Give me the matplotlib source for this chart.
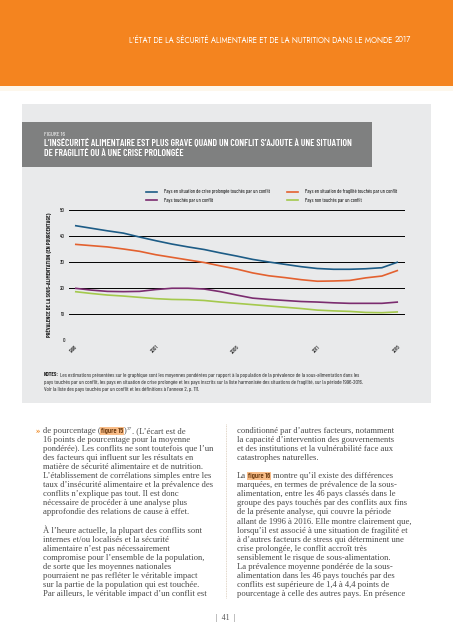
import matplotlib
matplotlib.use('Agg')
import matplotlib.pyplot as plt
from matplotlib.patches import Rectangle
from matplotlib.lines import Line2D

# --- data ---
years = list(range(1996, 2017))
crise_conflit = [44.0, 43.0, 42.0, 41.1, 39.6, 38.2, 36.9, 35.8, 34.8, 33.5, 32.3,
                 31.0, 30.0, 29.1, 28.2, 27.5, 27.2, 27.2, 27.4, 27.8, 30.0]
fragilite_conflit = [36.8, 36.3, 35.8, 35.0, 34.1, 32.8, 31.8, 30.8, 29.8, 28.5, 27.3,
                     25.8, 24.7, 24.0, 23.2, 22.6, 22.7, 22.9, 23.9, 24.6, 26.8]
touches_conflit = [19.9, 19.2, 18.7, 18.6, 18.7, 19.4, 19.9, 19.9, 19.6, 18.6, 17.3,
                   16.1, 15.6, 15.2, 14.8, 14.6, 14.3, 14.1, 14.1, 14.1, 14.6]
non_touches = [18.6, 17.9, 17.3, 16.9, 16.4, 15.9, 15.6, 15.5, 15.2, 14.6, 14.1,
               13.6, 13.1, 12.6, 12.1, 11.5, 11.2, 11.0, 10.6, 10.5, 10.8]
xticks = [1996, 2001, 2006, 2011, 2016]
yticks = [0, 10, 20, 30, 40, 50]

labels = ["Pays en situation de crise prolongée touchés par un conflit",
          "Pays touchés par un conflit",
          "Pays en situation de fragilité touchés par un conflit",
          "Pays non touchés par un conflit"]
colors = ["#1d5c86", "#7b2c6f", "#e3612f", "#a4c94d"]

header = "L’ÉTAT DE LA SÉCURITÉ ALIMENTAIRE ET DE LA NUTRITION DANS LE MONDE"
fig_num = "FIGURE 16"
title_lines = ["L’INSÉCURITÉ ALIMENTAIRE EST PLUS GRAVE QUAND UN CONFLIT S’AJOUTE À UNE SITUATION",
               "DE FRAGILITÉ OU À UNE CRISE PROLONGÉE"]
ylabel = "PRÉVALENCE DE LA SOUS-ALIMENTATION (EN POURCENTAGE)"
notes = ["Les estimations présentées sur le graphique sont les moyennes pondérées par rapport à la population de la prévalence de la sous-alimentation dans les",
         "pays touchés par un conflit, les pays en situation de crise prolongée et les pays inscrits sur la liste harmonisée des situations de fragilité, sur la période 1996-2016.",
         "Voir la liste des pays touchés par un conflit et les définitions à l’annexe 2, p. 111."]

left_col = ["", "16 points de pourcentage pour la moyenne",
            "pondérée). Les conflits ne sont toutefois que l’un",
            "des facteurs qui influent sur les résultats en",
            "matière de sécurité alimentaire et de nutrition.",
            "L’établissement de corrélations simples entre les",
            "taux d’insécurité alimentaire et la prévalence des",
            "conflits n’explique pas tout. Il est donc",
            "nécessaire de procéder à une analyse plus",
            "approfondie des relations de cause à effet.",
            None,
            "À l’heure actuelle, la plupart des conflits sont",
            "internes et/ou localisés et la sécurité",
            "alimentaire n’est pas nécessairement",
            "compromise pour l’ensemble de la population,",
            "de sorte que les moyennes nationales",
            "pourraient ne pas refléter le véritable impact",
            "sur la partie de la population qui est touchée.",
            "Par ailleurs, le véritable impact d’un conflit est"]
right_col = ["conditionné par d’autres facteurs, notamment",
             "la capacité d’intervention des gouvernements",
             "et des institutions et la vulnérabilité face aux",
             "catastrophes naturelles.",
             None,
             "",
             "marquées, en termes de prévalence de la sous-",
             "alimentation, entre les 46 pays classés dans le",
             "groupe des pays touchés par des conflits aux fins",
             "de la présente analyse, qui couvre la période",
             "allant de 1996 à 2016. Elle montre clairement que,",
             "lorsqu’il est associé à une situation de fragilité et",
             "à d’autres facteurs de stress qui déterminent une",
             "crise prolongée, le conflit accroît très",
             "sensiblement le risque de sous-alimentation.",
             "La prévalence moyenne pondérée de la sous-",
             "alimentation dans les 46 pays touchés par des",
             "conflits est supérieure de 1,4 à 4,4 points de",
             "pourcentage à celle des autres pays. En présence"]

W, H = 453, 640
COND = ["Barlow Condensed", "Fira Sans Extra Condensed", "DejaVu Sans"]
SERIF = ["Liberation Serif", "DejaVu Serif"]
HEAD = ["Jost", "DejaVu Sans"]

fig = plt.figure(figsize=(W / 100, H / 100), dpi=100)
fig.patch.set_facecolor("white")
renderer = fig.canvas.get_renderer()

page = fig.add_axes([0, 0, 1, 1])
page.set_xlim(0, W)
page.set_ylim(H, 0)
page.axis("off")


def box(x0, y0, x1, y1):
    return [x0 / W, 1 - y1 / H, (x1 - x0) / W, (y1 - y0) / H]


def text_width(txt, size, **kw):
    t = page.text(0, 0, txt, fontsize=size, **kw)
    w = t.get_window_extent(renderer=renderer).width
    t.remove()
    return w


def fit_size(txt, width, **kw):
    """ Font size that makes txt about width pixels wide """
    return 10 * width / text_width(txt, 10, **kw)


def run(x, y, parts, **kw):
    """ Write text pieces one after the other on a line """
    for txt, style in parts:
        opts = dict(kw)
        opts.update(style)
        t = page.text(x, y, txt, va="center", ha="left", **opts)
        x += t.get_window_extent(renderer=renderer).width
    return x


# header band
page.add_patch(Rectangle((0, 0), W, 86, color="#f4841f", lw=0))
page.add_patch(Rectangle((0, 86), W, 5, color="#fdf7ec", lw=0))
hs = fit_size(header + "  2017", 283, family=HEAD)
t = page.text(411, 40, "2017", color="white", fontsize=hs, fontweight="bold",
              family=HEAD, ha="right", va="center")
w = t.get_window_extent(renderer=renderer).width
page.text(411 - w - 2.5, 40, header, color="white", fontsize=hs, family=HEAD,
          ha="right", va="center")

# figure panel
page.add_patch(Rectangle((22, 104), 409, 299, color="#e9eaeb", lw=0))
page.add_patch(Rectangle((22, 122), 350, 45, color="#7f8080", lw=0))
page.text(44, 134, fig_num, color="white", fontsize=4.6, family=COND, va="center")
ts = fit_size(title_lines[0], 310, family=COND, fontweight="semibold")
for i, line in enumerate(title_lines):
    page.text(44, 143.5 + i * 9.5, line, color="white", fontsize=ts,
              fontweight="semibold", family=COND, va="center")

# chart
ax = fig.add_axes(box(69, 210, 405, 340))
ax.patch.set_alpha(0)
series = [crise_conflit, touches_conflit, fragilite_conflit, non_touches]
for vals, col, lab in zip(series, colors, labels):
    ax.plot(years, vals, color=col, lw=1.2, label=lab, solid_capstyle="butt")
ax.set_xlim(1995.63, 2016.43)
ax.set_ylim(0, 50)
ax.set_yticks(yticks)
ax.set_xticks(xticks)
ax.yaxis.grid(True, color="black", lw=0.7)
ax.set_axisbelow(True)
for s in ax.spines.values():
    s.set_visible(False)
ax.tick_params(length=0, labelsize=4.0, colors="#222222", pad=3)
for lab in ax.get_xticklabels():
    lab.set_rotation(45)
    lab.set_ha("right")
    lab.set_rotation_mode("anchor")
    lab.set_family(COND)
    lab.set_fontweight("medium")
for lab in ax.get_yticklabels():
    lab.set_family(COND)
    lab.set_fontweight("medium")

ys = fit_size(ylabel, 125, family=COND, fontweight="bold")
page.text(49, 275, ylabel, rotation=90, fontsize=ys, fontweight="bold",
          family=COND, color="#222222", ha="center", va="center")

# legend, two columns
ls = fit_size(labels[0], 107, family=COND)
handles = [Line2D([], [], color=c, lw=1.2) for c in colors]
leg_kw = dict(loc="upper left", frameon=False, borderpad=0, borderaxespad=0,
              handlelength=11 / (ls * 100 / 72), handletextpad=7 / (ls * 100 / 72),
              labelspacing=0.6, prop={"family": COND, "size": ls})
fig.legend(handles[:2], labels[:2], bbox_to_anchor=(146 / W, 1 - 189.5 / H), **leg_kw)
fig.legend(handles[2:], labels[2:], bbox_to_anchor=(287 / W, 1 - 189.5 / H), **leg_kw)

# notes
ns = fit_size("NOTES: " + notes[0], 314, family=COND)
for i, line in enumerate(notes):
    parts = [(line, {})]
    if i == 0:
        parts = [("NOTES:", {"fontweight": "bold"}), (" " + line, {})]
    run(44, 375 + i * 7.5, parts, fontsize=ns, family=COND, color="#222222")

# body text
bs = fit_size(left_col[2], 170, family=SERIF)
txt_kw = dict(fontsize=bs, family=SERIF, color="#4a4a4a")
hl = dict(family=COND, fontsize=bs * 0.85, color="#6b3a10", fontweight="semibold",
          bbox=dict(boxstyle="square,pad=0.12", fc="#f9bd88", ec="none"))
step = 9.05
page.text(37.5, 431, "»", color="#f08a24", fontsize=bs, fontweight="bold",
          family=SERIF, ha="center", va="center")
x = run(43, 431, [("de pourcentage (", {})], **txt_kw)
x = run(x + 0.6, 431, [("figure 15", hl)])
x = run(x + 0.6, 431, [(")", {})], **txt_kw)
x = run(x, 428.5, [("37", {"fontsize": bs * 0.6})], **txt_kw)
run(x, 431, [(". (L’écart est de", {})], **txt_kw)
y = 431
for line in left_col[1:]:
    y += step
    if line:
        page.text(43, y, line, va="center", **txt_kw)

y = 431
for i, line in enumerate(right_col):
    if i:
        y += step
    if line:
        page.text(237, y, line, va="center", **txt_kw)
    elif line == "":
        x = run(237, y, [("La", {})], **txt_kw)
        x = run(x + 2, y, [("figure 16", hl)])
        run(x + 0.6, y, [(" montre qu’il existe des différences", {})], **txt_kw)

page.plot([226, 226], [424, 598], color="#d8c8b4", lw=0.6, ls=(0, (1, 1)))
page.text(226, 618, "|  41  |", fontsize=bs * 0.9, family=SERIF, color="#555555",
          ha="center", va="center")

fig.savefig("out.png", dpi=100)
